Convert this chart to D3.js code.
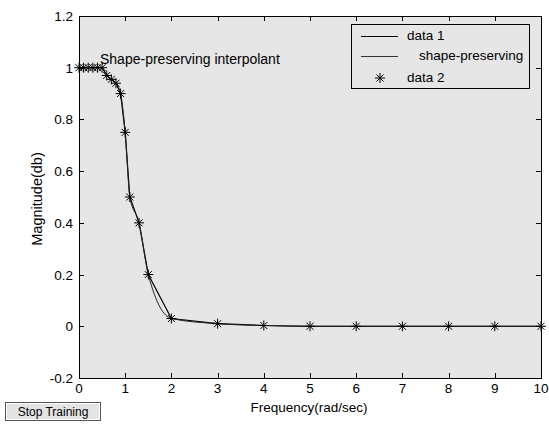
<!DOCTYPE html>
<html>
<head>
<meta charset="utf-8">
<script src="https://cdn.jsdelivr.net/npm/d3@7"></script>
<style>
  body { margin: 0; background: #fff; }
  svg { font-family: "Liberation Sans", Arial, sans-serif; }
</style>
</head>
<body>
<svg id="chart" width="549" height="425"></svg>
<script>
// measured points (data 2) and frequency grid
var freq = [0, 0.1, 0.2, 0.3, 0.4, 0.5, 0.6, 0.7, 0.8, 0.9, 1.0, 1.1, 1.3, 1.5, 2, 3, 4, 5, 6, 7, 8, 9, 10];
var magnitude = [1, 1, 1, 1, 1, 1, 0.97, 0.955, 0.94, 0.9, 0.75, 0.5, 0.4, 0.2, 0.03, 0.01, 0.003, 0, 0, 0, 0, 0, 0];
var xTicks = [0, 1, 2, 3, 4, 5, 6, 7, 8, 9, 10];
var yTicks = [-0.2, 0, 0.2, 0.4, 0.6, 0.8, 1, 1.2];
var legendLabels = ["data 1", "shape-preserving", "data 2"];

var svg = d3.select("#chart");
var pLeft = 79, pRight = 541, pTop = 16, pBottom = 378;
var fs = 13.5;

var x = d3.scaleLinear().domain([0, 10]).range([pLeft, pRight]);
var y = d3.scaleLinear().domain([-0.2, 1.2]).range([pBottom, pTop]);

var pts = freq.map(function(f, i) { return [f, magnitude[i]]; });

// axes background
svg.append("rect")
  .attr("x", pLeft).attr("y", pTop)
  .attr("width", pRight - pLeft).attr("height", pBottom - pTop)
  .attr("fill", "#e6e6e6");

// ticks (inward on all four sides)
var g = svg.append("g").attr("stroke", "#000").attr("stroke-width", 1);
xTicks.forEach(function(t) {
  var tx = Math.round(x(t)) + 0.5;
  g.append("line").attr("x1", tx).attr("x2", tx).attr("y1", pBottom).attr("y2", pBottom - 5);
  g.append("line").attr("x1", tx).attr("x2", tx).attr("y1", pTop).attr("y2", pTop + 5);
});
yTicks.forEach(function(t) {
  var ty = Math.round(y(t)) + 0.5;
  g.append("line").attr("x1", pLeft).attr("x2", pLeft + 5).attr("y1", ty).attr("y2", ty);
  g.append("line").attr("x1", pRight).attr("x2", pRight - 5).attr("y1", ty).attr("y2", ty);
});

svg.append("g").selectAll("text")
  .data(xTicks).enter().append("text")
  .attr("x", function(d) { return x(d); })
  .attr("y", pBottom + 15)
  .attr("text-anchor", "middle")
  .attr("font-size", fs)
  .text(function(d) { return d; });

svg.append("g").selectAll("text")
  .data(yTicks).enter().append("text")
  .attr("x", pLeft - 6)
  .attr("y", function(d) { return y(d) + 5; })
  .attr("text-anchor", "end")
  .attr("font-size", fs)
  .text(function(d) { return +d.toFixed(1); });

// data 1: straight segments
svg.append("path")
  .datum(pts)
  .attr("fill", "none").attr("stroke", "#000").attr("stroke-width", 1.2)
  .attr("d", d3.line().x(function(d) { return x(d[0]); }).y(function(d) { return y(d[1]); }));

// shape-preserving interpolant
svg.append("path")
  .datum(pts)
  .attr("fill", "none").attr("stroke", "#222").attr("stroke-width", 1)
  .attr("d", d3.line().curve(d3.curveMonotoneX)
    .x(function(d) { return x(d[0]); }).y(function(d) { return y(d[1]); }));

// data 2 star markers
function star(sel, cx, cy) {
  var r = 5, q = 3.5;
  sel.append("path")
    .attr("d", "M" + (cx - r) + "," + cy + "H" + (cx + r) +
      "M" + cx + "," + (cy - r) + "V" + (cy + r) +
      "M" + (cx - q) + "," + (cy - q) + "L" + (cx + q) + "," + (cy + q) +
      "M" + (cx - q) + "," + (cy + q) + "L" + (cx + q) + "," + (cy - q))
    .attr("stroke", "#000").attr("stroke-width", 1).attr("fill", "none");
}
var marks = svg.append("g");
pts.forEach(function(d) { star(marks, x(d[0]), y(d[1])); });

// frame
svg.append("rect")
  .attr("x", pLeft + 0.5).attr("y", pTop + 0.5)
  .attr("width", pRight - pLeft).attr("height", pBottom - pTop)
  .attr("fill", "none").attr("stroke", "#000");

// annotation
svg.append("text")
  .attr("x", 100).attr("y", 64)
  .attr("font-size", 14)
  .text("Shape-preserving interpolant");

// legend
var lg = svg.append("g");
lg.append("rect")
  .attr("x", 351.5).attr("y", 24.5).attr("width", 178).attr("height", 64)
  .attr("fill", "#e6e6e6").attr("stroke", "#000");
lg.append("line").attr("x1", 361).attr("x2", 398).attr("y1", 36.5).attr("y2", 36.5).attr("stroke", "#000");
lg.append("line").attr("x1", 361).attr("x2", 398).attr("y1", 56.5).attr("y2", 56.5).attr("stroke", "#333");
star(lg, 380, 78);
lg.append("text").attr("x", 407).attr("y", 40).attr("font-size", fs).text(legendLabels[0]);
lg.append("text").attr("x", 419).attr("y", 60).attr("font-size", fs).text(legendLabels[1]);
lg.append("text").attr("x", 407).attr("y", 82).attr("font-size", fs).text(legendLabels[2]);

// axis labels
svg.append("text")
  .attr("x", 309).attr("y", 412)
  .attr("text-anchor", "middle").attr("font-size", fs)
  .text("Frequency(rad/sec)");
svg.append("text")
  .attr("transform", "translate(42,199) rotate(-90)")
  .attr("text-anchor", "middle").attr("font-size", 14.5)
  .text("Magnitude(db)");

// Stop Training button
var btn = svg.append("g");
btn.append("rect")
  .attr("x", 5.5).attr("y", 402.5).attr("width", 95).attr("height", 18)
  .attr("fill", "#e4e4e4").attr("stroke", "#555");
btn.append("rect")
  .attr("x", 6.5).attr("y", 403.5).attr("width", 93).attr("height", 16)
  .attr("fill", "none").attr("stroke", "#fff");
btn.append("text")
  .attr("x", 53).attr("y", 416)
  .attr("text-anchor", "middle").attr("font-size", 12)
  .text("Stop Training");
</script>
</body>
</html>
